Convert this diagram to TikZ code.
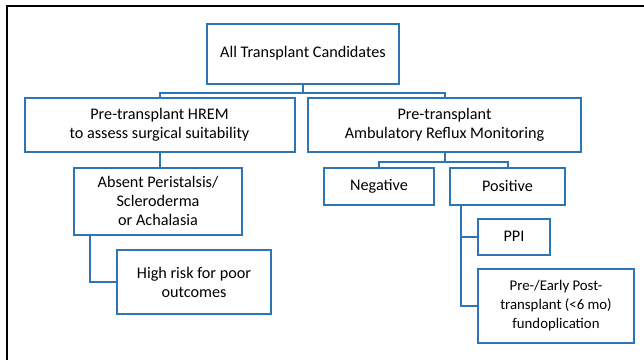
\documentclass[tikz,border=0pt]{standalone}
\usepackage{fontspec}
\setmainfont{Carlito}
\usepackage{xcolor}
\usepackage{tikz}
\usetikzlibrary{calc}
\usetikzlibrary{positioning}

\definecolor{boxblue}{RGB}{46,117,182}

\tikzset{
  tbox/.style={draw=boxblue, line width=2pt, rectangle, align=center,
    inner sep=2pt, font=\fontsize{16.2}{19}\selectfont},
  link/.style={draw=boxblue, line width=2pt}
}

\begin{document}
\begin{tikzpicture}[x=1pt, y=-1pt]

    \useasboundingbox (0, 0) rectangle (644, 360);
    % frame
    \draw [line width=2pt] (7, 360) -- (7, 6) -- (644, 6);

    % boxes
    \node [tbox, minimum width=192pt, minimum height=60pt] (root) at (303, 53.5)
      {All Transplant Candidates};
    \node [tbox, minimum width=270pt, minimum height=54pt] (hrem) at (159.5, 125)
      {Pre-transplant HREM\\to assess surgical suitability};
    \node [tbox, minimum width=273pt, minimum height=54pt] (arm) at (444.5, 125)
      {Pre-transplant\\Ambulatory Reflux Monitoring};
    \node [tbox, minimum width=168pt, minimum height=67pt] (absent) at (158, 201)
      {Absent Peristalsis/\\Scleroderma\\or Achalasia};
    \node [tbox, minimum width=154pt, minimum height=64pt] (risk) at (194, 282)
      {High risk for poor\\outcomes};
    \node [tbox, minimum width=110pt, minimum height=37pt] (neg) at (379, 186)
      {Negative};
    \node [tbox, minimum width=115pt, minimum height=37pt] (pos) at (507.5, 186)
      {Positive};
    \node [tbox, minimum width=72pt, minimum height=36pt] (ppi) at (514, 236.5)
      {PPI};
    \node [tbox, minimum width=156pt, minimum height=74pt,
      font=\fontsize{14.8}{19}\selectfont] (fundo) at (556, 306)
      {Pre-/Early Post-\\transplant (<6 mo)\\fundoplication};

    % connectors
    \foreach \n in {hrem, arm} {
      \draw [link] (root.south) -- ++(0, 8) -| (\n.north);
    }
    \foreach \n in {neg, pos} {
      \draw [link] (arm.south) -- ++(0, 9) -| (\n.north);
    }
    \draw [link] (hrem.south) -- (hrem.south |- absent.north);
    \draw [link] ([xshift=17pt]absent.south west) |- (risk.west);
    \foreach \n in {ppi, fundo} {
      \draw [link] ([xshift=12pt]pos.south west) |- (\n.west);
    }

  \end{tikzpicture}
\end{document}
